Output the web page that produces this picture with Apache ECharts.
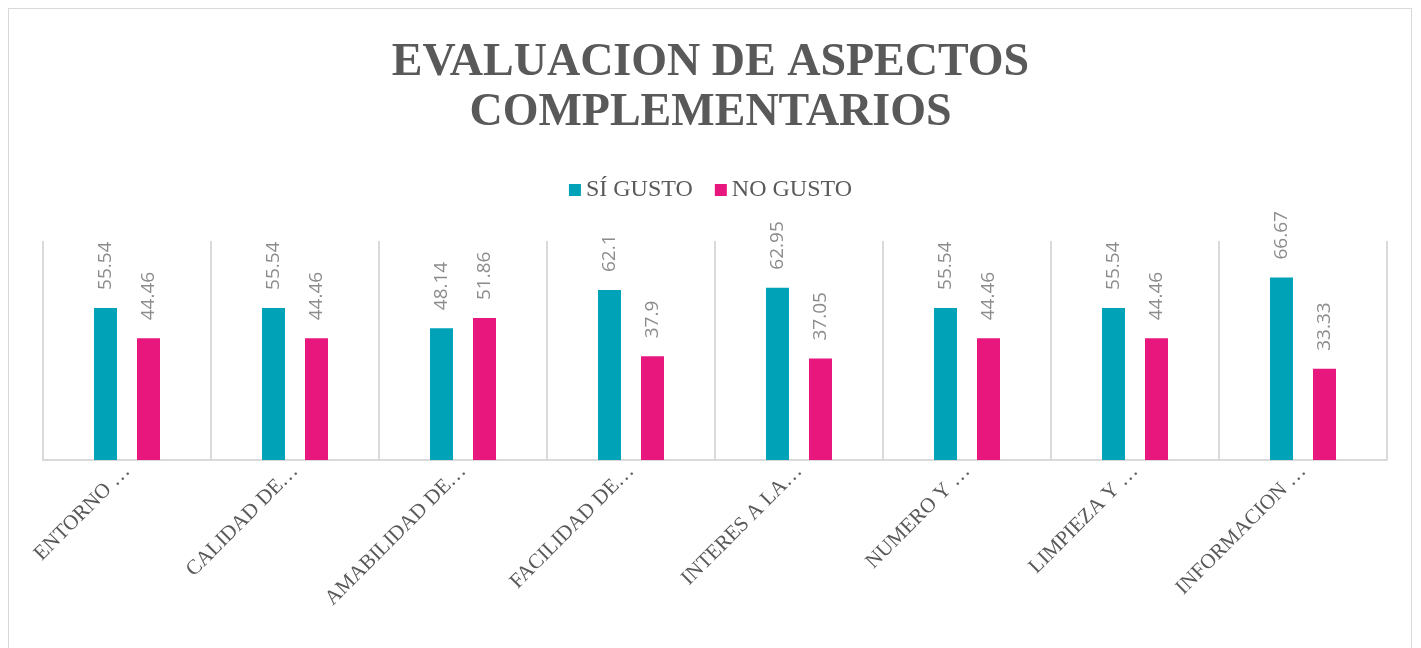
<!DOCTYPE html>
<html>
<head>
<meta charset="utf-8">
<script src="https://cdn.jsdelivr.net/npm/echarts@6/dist/echarts.min.js"></script>
<style>
  body { margin: 0; background: #fff; }
  #chart { position: absolute; left: 0; top: 0; width: 1421px; height: 648px; }
  #frame { position: absolute; left: 8px; top: 8px; width: 1404px; height: 650px; border: 1px solid #d9d9d9; box-sizing: border-box; }
</style>
</head>
<body>
<div id="frame"></div>
<div id="chart"></div>
<script>
// categorias (ya vienen recortadas en el grafico original)
var categorias = ['ENTORNO …', 'CALIDAD DE…', 'AMABILIDAD DE…', 'FACILIDAD DE…',
                  'INTERES A LA…', 'NUMERO Y …', 'LIMPIEZA Y …', 'INFORMACION …'];
var siGusto = [55.54, 55.54, 48.14, 62.1, 62.95, 55.54, 55.54, 66.67];
var noGusto = [44.46, 44.46, 51.86, 37.9, 37.05, 44.46, 44.46, 33.33];

var serif = '"Liberation Serif", "DejaVu Serif", serif';

var etiqueta = {
    show: true,
    position: 'top',
    rotate: 90,
    align: 'left',
    verticalAlign: 'middle',
    distance: 18,
    color: '#8c8c8c',
    fontSize: 19,
    fontFamily: '"Open Sans", "Noto Sans", sans-serif'
};

var option = {
    title: {
        text: 'EVALUACION DE ASPECTOS\nCOMPLEMENTARIOS',
        left: 'center',
        top: 33,
        textStyle: {
            color: '#595959',
            fontSize: 46,
            fontWeight: 'bold',
            fontFamily: serif,
            lineHeight: 50
        }
    },
    legend: {
        data: ['SÍ GUSTO', 'NO GUSTO'],
        top: 173,
        left: 'center',
        itemWidth: 12,
        itemHeight: 12,
        itemGap: 22,
        icon: 'rect',
        textStyle: { color: '#595959', fontSize: 24, fontFamily: serif }
    },
    grid: { left: 43, right: 34, top: 241, bottom: 188 },
    xAxis: {
        type: 'category',
        data: categorias,
        axisLine: { lineStyle: { color: '#d9d9d9', width: 2 } },
        axisTick: { show: false },
        splitLine: { show: true, lineStyle: { color: '#d9d9d9', width: 2 } },
        axisLabel: {
            interval: 0,
            rotate: 45,
            margin: 8,
            color: '#595959',
            fontSize: 21,
            fontFamily: serif
        }
    },
    yAxis: {
        type: 'value',
        min: 0,
        max: 80,
        show: false
    },
    series: [
        {
            name: 'SÍ GUSTO',
            type: 'bar',
            data: siGusto,
            barWidth: 23,
            barGap: '87%',
            itemStyle: { color: '#00a2b8' },
            label: etiqueta
        },
        {
            name: 'NO GUSTO',
            type: 'bar',
            data: noGusto,
            barWidth: 23,
            itemStyle: { color: '#e8177e' },
            label: etiqueta
        }
    ]
};

var myChart = echarts.init(document.getElementById('chart'));
myChart.setOption(option);
</script>
</body>
</html>
